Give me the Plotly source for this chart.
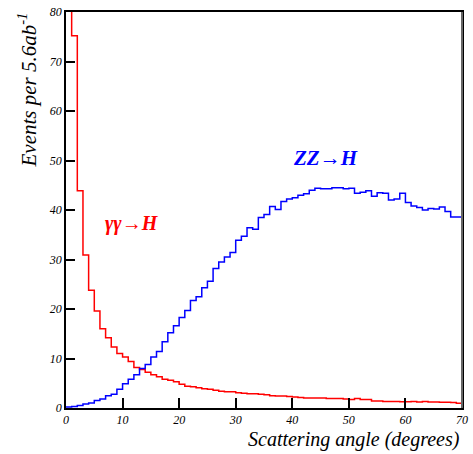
import plotly.graph_objects as go

# Bin edges (degrees) and per-bin event counts
bin_edges = list(range(0, 71))
gamma_gamma = [120, 75.2, 43.9, 30.9, 23.8, 19.6, 16.0, 14.2, 12.3, 11.0,
               10.3, 9.4, 8.2, 7.8, 7.2, 6.7, 6.3, 5.8, 5.6, 5.3,
               4.8, 4.4, 4.3, 4.1, 3.9, 3.8, 3.6, 3.4, 3.3, 3.3,
               3.1, 3.0, 2.9, 2.9, 2.8, 2.7, 2.5, 2.4, 2.4, 2.3,
               2.2, 2.1, 2.0, 2.0, 2.0, 2.0, 1.9, 1.9, 1.9, 1.8,
               1.7, 1.9, 1.7, 1.7, 1.4, 1.4, 1.3, 1.3, 1.3, 1.25,
               1.25, 1.3, 1.2, 1.3, 1.2, 1.2, 1.15, 1.15, 1.1, 0.95]
zz = [0.2, 0.3, 0.5, 0.8, 1.0, 1.5, 1.8, 2.5, 2.8, 3.8,
      4.9, 5.8, 6.7, 8.0, 8.8, 10.3, 11.4, 13.4, 15.2, 16.6,
      18.3, 19.7, 21.7, 22.5, 24.3, 25.6, 28.2, 29.5, 30.5, 31.4,
      33.9, 34.7, 36.4, 36.1, 38.5, 39.1, 40.7, 40.1, 41.7, 42.2,
      42.5, 43.0, 43.3, 44.0, 44.4, 44.3, 44.3, 44.5, 44.5, 44.3,
      44.4, 43.4, 43.6, 43.9, 42.8, 43.5, 43.4, 42.0, 42.2, 43.4,
      41.5, 40.8, 40.5, 40.0, 40.3, 40.2, 40.6, 39.7, 38.6, 38.6]
x_ticks = [0, 10, 20, 30, 40, 50, 60, 70]
y_ticks = [0, 10, 20, 30, 40, 50, 60, 70, 80]

serif = "'Liberation Serif', 'Times New Roman', Times, serif"

fig = go.Figure()
fig.add_trace(go.Scatter(x=bin_edges, y=gamma_gamma + [gamma_gamma[-1]],
                         mode="lines", line=dict(color="#ff0000", width=1.5, shape="hv"),
                         showlegend=False, hoverinfo="skip"))
fig.add_trace(go.Scatter(x=bin_edges, y=zz + [zz[-1]],
                         mode="lines", line=dict(color="#0000ff", width=1.5, shape="hv"),
                         showlegend=False, hoverinfo="skip"))

tickfont = dict(family=serif, size=12, color="black", style="italic")
fig.update_xaxes(range=[0, 70], tickvals=x_ticks, ticks="inside", ticklen=10,
                 tickcolor="black", tickwidth=1.5, showgrid=False, zeroline=False,
                 showline=True, linecolor="black", linewidth=2, mirror=True,
                 tickfont=tickfont)
fig.update_yaxes(range=[0, 80], tickvals=y_ticks, ticks="inside", ticklen=9,
                 tickcolor="black", tickwidth=1.5, showgrid=False, zeroline=False,
                 showline=True, linecolor="black", linewidth=1.5, mirror=True,
                 tickfont=tickfont)

# grey right-hand frame edge
fig.add_shape(type="line", xref="paper", yref="paper", x0=1, x1=1, y0=0, y1=1,
              line=dict(color="#666666", width=2))

fig.add_annotation(x=11.7, y=37.3, xref="x", yref="y", text="γγ→H", showarrow=False,
                   font=dict(family=serif, size=20, color="#ff0000", weight="bold", style="italic"))
fig.add_annotation(x=45.8, y=50.6, xref="x", yref="y", text="ZZ→H", showarrow=False,
                   font=dict(family=serif, size=21, color="#0000ff", weight="bold", style="italic"))
fig.add_annotation(x=1, y=-0.045, xref="paper", yref="paper", xanchor="right", yanchor="top",
                   text="Scattering angle (degrees)", showarrow=False,
                   font=dict(family=serif, size=20, color="black", style="italic"))
fig.add_annotation(x=-0.096, y=1.005, xref="paper", yref="paper", xanchor="center", yanchor="top",
                   text="Events per 5.6ab<sup>-1</sup>", showarrow=False, textangle=-90,
                   font=dict(family=serif, size=21, color="black", style="italic"))

fig.update_layout(width=473, height=454, paper_bgcolor="white", plot_bgcolor="white",
                  margin=dict(l=66, r=5, t=8, b=46))
fig.write_html("out.html", config={"displayModeBar": False},
               post_script="document.body.style.margin='0';document.body.style.overflow='hidden';")
